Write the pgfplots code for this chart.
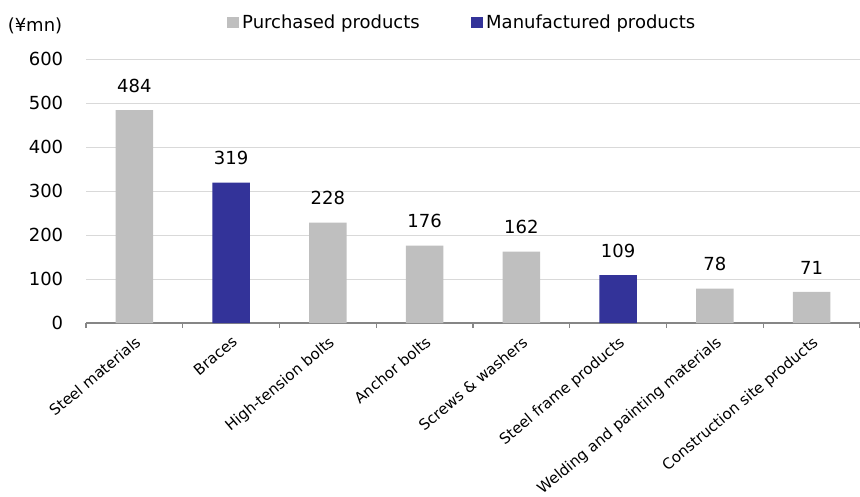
\documentclass[border=0pt]{standalone}
\usepackage{pgfplots}
\pgfplotsset{compat=1.18}
\usepackage{fontspec}
\setmainfont{DejaVu Sans}
\definecolor{pgray}{HTML}{BFBFBF}
\definecolor{mnavy}{HTML}{333399}
\definecolor{axisgray}{HTML}{868686}
\definecolor{gridgray}{HTML}{D9D9D9}
\begin{document}
\begin{tikzpicture}[x=1pt,y=1pt]
\useasboundingbox (0,0) rectangle (860,496);
\node[font=\fontsize{18}{21}\selectfont, inner sep=0pt] at (35,470) {(¥mn)};
\begin{axis}[
  at={(86pt,173pt)}, anchor=south west,
  scale only axis, width=774pt, height=264pt,
  xmin=-0.5, xmax=7.5, ymin=0, ymax=600,
  ybar, bar width=0.39, bar shift=0pt,
  /pgf/number format/assume math mode=true,
  axis lines*=left,
  x axis line style={draw=axisgray, line width=1.5pt, -},
  y axis line style={draw=none, -},
  ytick={0,100,...,600},
  ymajorgrids, grid style={draw=gridgray, line width=0.8pt},
  major y tick style={draw=none},
  major x tick style={draw=none},
  xtick={0,...,7},
  xticklabels={Steel materials, Braces, High-tension bolts, Anchor bolts, Screws \& washers, Steel frame products, Welding and painting materials, Construction site products},
  minor xtick={-0.5,0.5,...,7.5},
  minor x tick style={draw=axisgray, line width=1.2pt},
  minor tick length=5pt,
  tick align=outside,
  xticklabel style={rotate=40, anchor=north east, inner sep=1pt, font=\fontsize{15}{18}\selectfont, yshift=-5pt, xshift=-4pt},
  yticklabel style={font=\fontsize{18}{21}\selectfont, xshift=-15pt},
  nodes near coords,
  every node near coord/.append style={font=\fontsize{18}{21}\selectfont, yshift=14pt, black},
  legend style={at={(0.487,1.14)}, anchor=center, draw=none, fill=none,
    font=\fontsize{18}{21}\selectfont, legend columns=2,
    /tikz/every even column/.append style={column sep=48pt},
    /tikz/every node/.append style={inner xsep=3.5pt}},
  legend image code/.code={\fill[#1] (0pt,-6pt) rectangle (11.5pt,5.5pt);},
]
\addplot[fill=pgray, draw=none] coordinates {(0,484) (2,228) (3,176) (4,162) (6,78) (7,71)};
\addlegendentry{Purchased products}
\addplot[fill=mnavy, draw=none] coordinates {(1,319) (5,109)};
\addlegendentry{Manufactured products}
\end{axis}
\end{tikzpicture}
\end{document}
